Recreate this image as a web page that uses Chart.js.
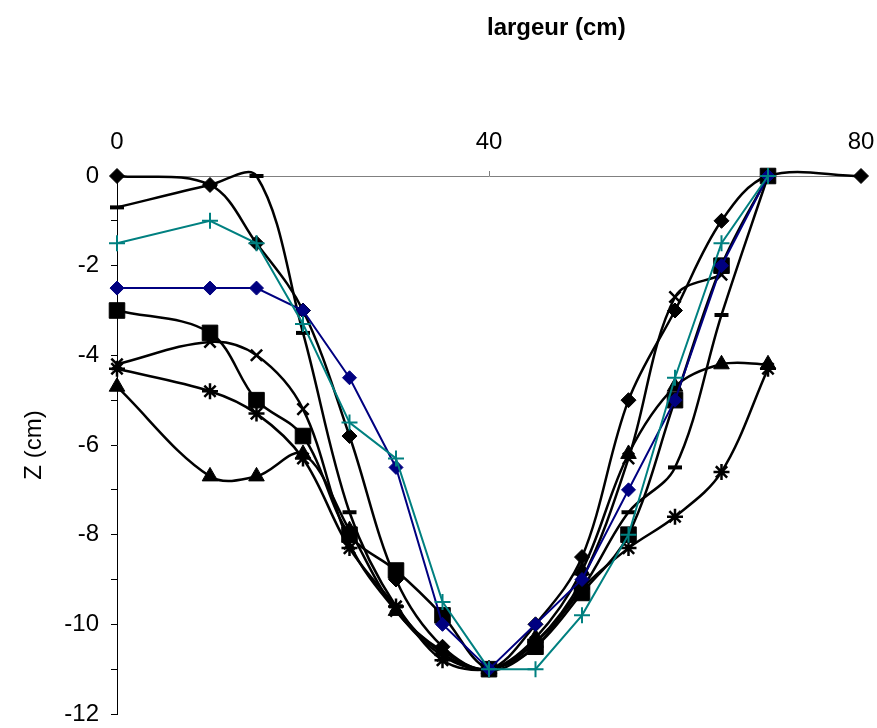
<!DOCTYPE html>
<html>
<head>
<meta charset="utf-8">
<script src="https://cdn.jsdelivr.net/npm/chart.js@4"></script>
<style>
  html, body { margin: 0; padding: 0; background: #fff; }
  #wrap { position: relative; width: 877px; height: 728px; }
  #titre { position: absolute; left: 487px; top: 13px; font: bold 24px "Liberation Sans", Arial, sans-serif; color: #000; }
</style>
</head>
<body>
<div id="wrap">
  <canvas id="profilChart" width="877" height="728"></canvas>
  <div id="titre">largeur (cm)</div>
</div>
<script>
// abscisses des mesures (cm)
const xs = [0, 10, 15, 20, 25, 30, 35, 40, 45, 50, 55, 60, 65, 70, 80];

// profondeurs Z (cm) pour chaque profil, null = pas de mesure
const profilLosange   = [0, -0.2, -1.5, -3, -5.8, -9, -10.5, -11, -10, -8.5, -5, -3, -1, 0, 0];
const profilBleu      = [-2.5, -2.5, -2.5, -3, -4.5, -6.5, -10, -11, -10, -9, -7, -5, -2, 0, null];
const profilTurquoise = [-1.5, -1, -1.5, -3.3, -5.5, -6.3, -9.5, -11, -11, -9.8, -8, -4.5, -1.5, 0, null];
const profilCarre     = [-3, -3.5, -5, -5.8, -8, -8.8, -9.8, -11, -10.5, -9.3, -8, -5, -2, 0, null];
const profilTriangle  = [-4.7, -6.7, -6.7, -6.2, -7.9, -9.7, -10.6, -11, -10.3, -8.8, -6.2, -4.7, -4.2, -4.2, null];
const profilCroix     = [-4.2, -3.7, -4, -5.2, -8.2, -9.7, -10.7, -11, -10.4, -9, -6.3, -2.7, -2.2, null, null];
const profilEtoile    = [-4.3, -4.8, -5.3, -6.3, -8.3, -9.6, -10.8, -11, -10.5, -9.2, -8.3, -7.6, -6.6, -4.3, null];
const profilTiret     = [-0.7, -0.2, 0, -3.5, -7.5, -9.6, -10.65, -11, -10.4, -9.2, -7.5, -6.5, -3.1, 0, null];

const toPoints = arr => xs.map((x, i) => ({ x: x, y: arr[i] })).filter(p => p.y !== null);

Chart.defaults.font.family = '"Liberation Sans", Arial, sans-serif';
Chart.defaults.font.size = 24;
Chart.defaults.color = '#000';

// style commun des séries
const serie = (data, color, style, radius, lissee, extra) => Object.assign({
  data: toPoints(data),
  borderColor: color,
  backgroundColor: color,
  pointBackgroundColor: color,
  pointBorderColor: color,
  pointStyle: style,
  pointRadius: radius,
  pointBorderWidth: 1,
  borderWidth: lissee ? 2.5 : 2,
  tension: lissee ? 0.35 : 0,
  clip: false
}, extra || {});

const ctx = document.getElementById('profilChart').getContext('2d');

const chart = new Chart(ctx, {
  type: 'line',
  data: {
    datasets: [
      serie(profilTurquoise, '#008080', 'cross', 8, false, { pointBorderWidth: 2 }),
      serie(profilBleu, '#000080', 'rectRot', 7, false),
      serie(profilLosange, '#000', 'rectRot', 7.5, true),
      serie(profilCarre, '#000', 'rect', 11, true),
      serie(profilTriangle, '#000', 'triangle', 9, true),
      serie(profilCroix, '#000', 'crossRot', 8, true, { pointBorderWidth: 2.5 }),
      serie(profilEtoile, '#000', 'star', 8, true, { pointBorderWidth: 2.5 }),
      serie(profilTiret, '#000', 'line', 7, true, { pointBorderWidth: 4 })
    ]
  },
  options: {
    responsive: false,
    animation: false,
    layout: { autoPadding: false, padding: { left: 0, right: 16, top: 0, bottom: 14 } },
    elements: { line: { capBezierPoints: false } },
    plugins: {
      legend: { display: false },
      tooltip: { enabled: false }
    },
    scales: {
      x: {
        type: 'linear',
        position: 'top',
        min: 0,
        max: 80,
        ticks: { stepSize: 40, padding: 14, maxRotation: 0 },
        grid: { drawOnChartArea: false, tickLength: 5, color: '#808080' },
        border: { color: '#808080', width: 1 },
        afterFit: s => { s.height = 176; s.paddingLeft = 0; s.paddingRight = 0; }
      },
      y: {
        min: -12,
        max: 0,
        ticks: {
          stepSize: 1,
          padding: 12,
          autoSkip: false,
          callback: v => (v % 2 === 0 ? v : '')
        },
        grid: { drawOnChartArea: false, tickLength: 6, color: '#000' },
        border: { color: '#000', width: 1 },
        title: { display: true, text: 'Z (cm)', padding: { top: 20, bottom: 0 } },
        afterFit: s => { s.width = 117; s.paddingTop = 0; s.paddingBottom = 0; }
      }
    }
  }
});
</script>
</body>
</html>
